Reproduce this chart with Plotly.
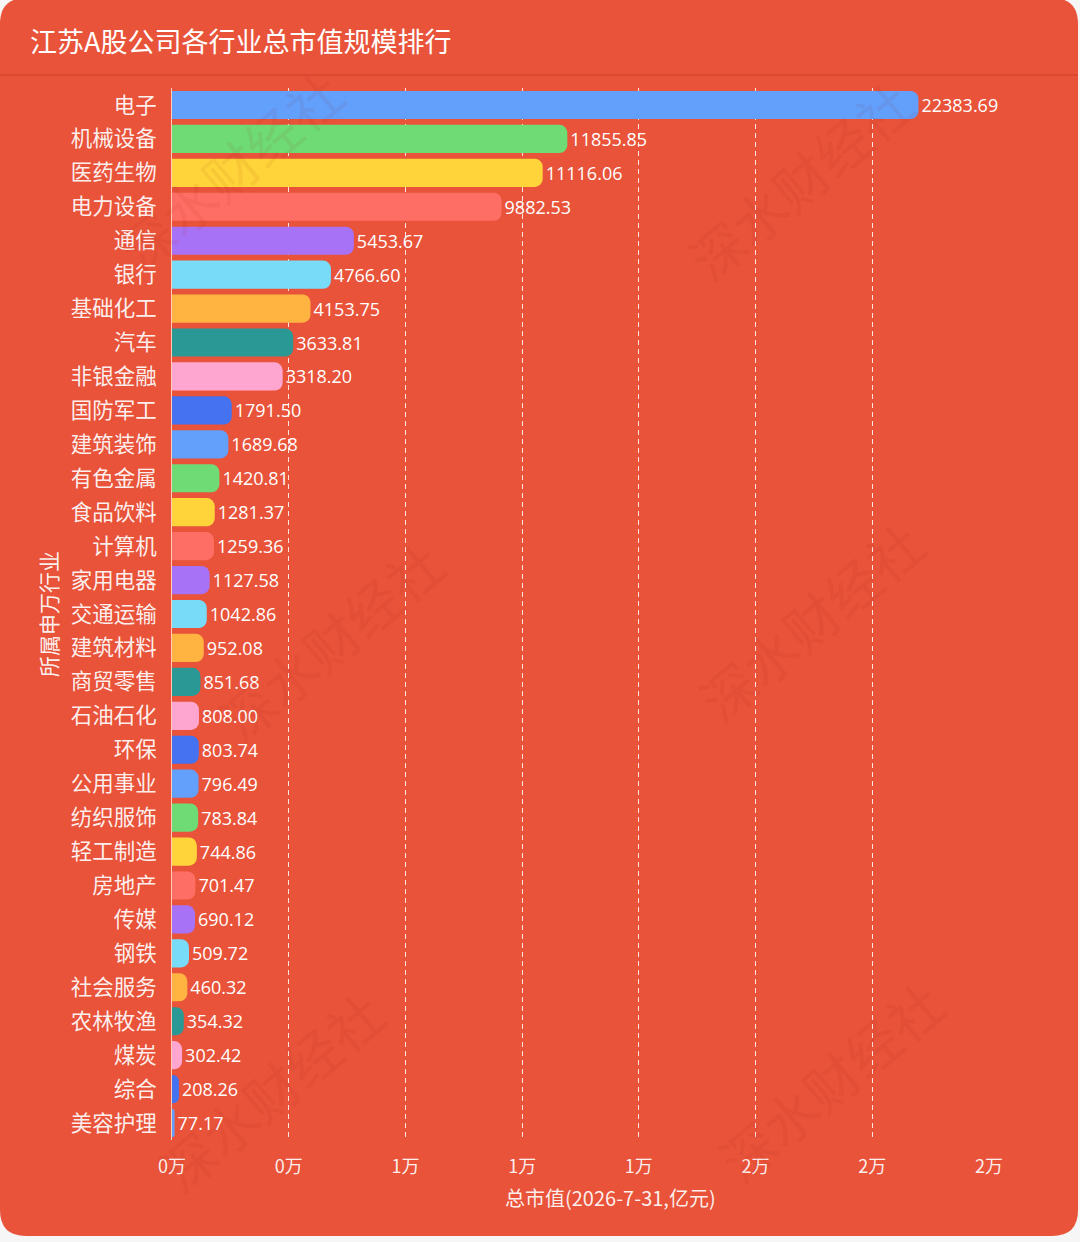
import plotly.graph_objects as go

# 申万行业 & 总市值(亿元), ordered as in the chart (top to bottom)
industries = ['电子', '机械设备', '医药生物', '电力设备', '通信', '银行', '基础化工', '汽车', '非银金融',
              '国防军工', '建筑装饰', '有色金属', '食品饮料', '计算机', '家用电器', '交通运输', '建筑材料',
              '商贸零售', '石油石化', '环保', '公用事业', '纺织服饰', '轻工制造', '房地产', '传媒', '钢铁',
              '社会服务', '农林牧渔', '煤炭', '综合', '美容护理']
market_cap = [22383.69, 11855.85, 11116.06, 9882.53, 5453.67, 4766.60, 4153.75, 3633.81, 3318.20,
              1791.50, 1689.68, 1420.81, 1281.37, 1259.36, 1127.58, 1042.86, 952.08,
              851.68, 808.00, 803.74, 796.49, 783.84, 744.86, 701.47, 690.12, 509.72,
              460.32, 354.32, 302.42, 208.26, 77.17]

tick_vals = [0, 3500, 7000, 10500, 14000, 17500, 21000, 24500]
tick_labels = ['0万', '0万', '1万', '1万', '1万', '2万', '2万', '2万']

palette = ['#62A0FC', '#6EDB75', '#FFD43A', '#FF6E64', '#A872F6',
           '#78DBF8', '#FFB341', '#2A9996', '#FFA6D0', '#4572F1']
bar_colors = [palette[i % len(palette)] for i in range(len(industries))]

W, H = 1080, 1242
ML, MR, MT, MB = 172, 91, 88, 102
BG = '#E8533A'
FONT = 'Noto Sans CJK SC'
TXT = 'rgba(255,255,255,0.92)'


def px(x):
    return (x - ML) / (W - ML - MR)


def py(y):
    return (H - MB - y) / (H - MT - MB)


fig = go.Figure()
fig.add_trace(go.Bar(
    x=market_cap,
    y=industries,
    orientation='h',
    marker=dict(color=bar_colors, cornerradius=8, line=dict(width=0)),
    width=0.83,
    text=[f'{v:.2f}' for v in market_cap],
    textposition='outside',
    textfont=dict(color='white', size=18, family='Open Sans'),
    constraintext='none',
    cliponaxis=False,
    hoverinfo='x+y',
))

# rounded card behind everything
r = 26
x0, x1, y0, y1 = px(0), px(1078), py(-2), py(1236)
rx, ry = r / (W - ML - MR), r / (H - MT - MB)
card = (f'M {x0 + rx},{y0} L {x1 - rx},{y0} Q {x1},{y0} {x1},{y0 - ry} '
        f'L {x1},{y1 + ry} Q {x1},{y1} {x1 - rx},{y1} L {x0 + rx},{y1} '
        f'Q {x0},{y1} {x0},{y1 + ry} L {x0},{y0 - ry} Q {x0},{y0} {x0 + rx},{y0} Z')
shapes = [
    dict(type='path', path=card, xref='paper', yref='paper', fillcolor=BG, line=dict(width=0), layer='below'),
    dict(type='line', xref='paper', yref='paper', x0=px(0), x1=px(1078), y0=py(75), y1=py(75),
         line=dict(color='rgba(170,45,25,0.45)', width=1), layer='below'),
]

annotations = [
    dict(text='所属申万行业', x=px(48), y=py(614), xref='paper', yref='paper', showarrow=False,
         xanchor='center', yanchor='middle', textangle=-90,
         font=dict(size=21, color=TXT, family=FONT)),
    dict(text='总市值(2026-7-31,亿元)', x=px(610), y=py(1197), xref='paper', yref='paper', showarrow=False,
         xanchor='center', yanchor='middle',
         font=dict(size=20, color=TXT, family=FONT)),
]
# faint watermark
for wx, wy in [(230, 170), (800, 180), (330, 640), (810, 620), (270, 1090), (830, 1080)]:
    annotations.append(dict(text='深水财经社', x=px(wx), y=py(wy), xref='paper', yref='paper',
                            showarrow=False, textangle=-40, xanchor='center', yanchor='middle',
                            font=dict(size=54, color='rgba(150,35,20,0.07)', family=FONT)))

fig.update_layout(
    width=W, height=H,
    margin=dict(l=ML, r=MR, t=MT, b=MB),
    paper_bgcolor='#F6F6F6',
    plot_bgcolor='rgba(0,0,0,0)',
    title=dict(text='江苏A股公司各行业总市值规模排行', x=30 / W, xref='container', xanchor='left',
               y=1 - 43 / H, yref='container', yanchor='middle',
               font=dict(size=27, color='white', family=FONT)),
    showlegend=False,
    shapes=shapes,
    annotations=annotations,
    xaxis=dict(range=[0, 24500], tickvals=tick_vals, ticktext=tick_labels,
               showgrid=True, gridcolor='rgba(255,255,255,0.85)', griddash='5px,4px', gridwidth=1,
               zeroline=False, showline=False, ticks='', ticklabelstandoff=14,
               tickfont=dict(size=18, color=TXT, family=FONT), fixedrange=True),
    yaxis=dict(categoryorder='array', categoryarray=industries, autorange='reversed',
               showgrid=False, zeroline=False, showline=True, linecolor='rgba(255,215,200,0.9)', linewidth=1,
               ticks='', ticklabelstandoff=10,
               tickfont=dict(size=21.5, color=TXT, family=FONT), fixedrange=True),
    font=dict(family=FONT),
)

# drop the browser's default body margin so the card sits at the page corner
fig.write_html('out.html', config={'displayModeBar': False},
               post_script="document.body.style.margin='0';")
